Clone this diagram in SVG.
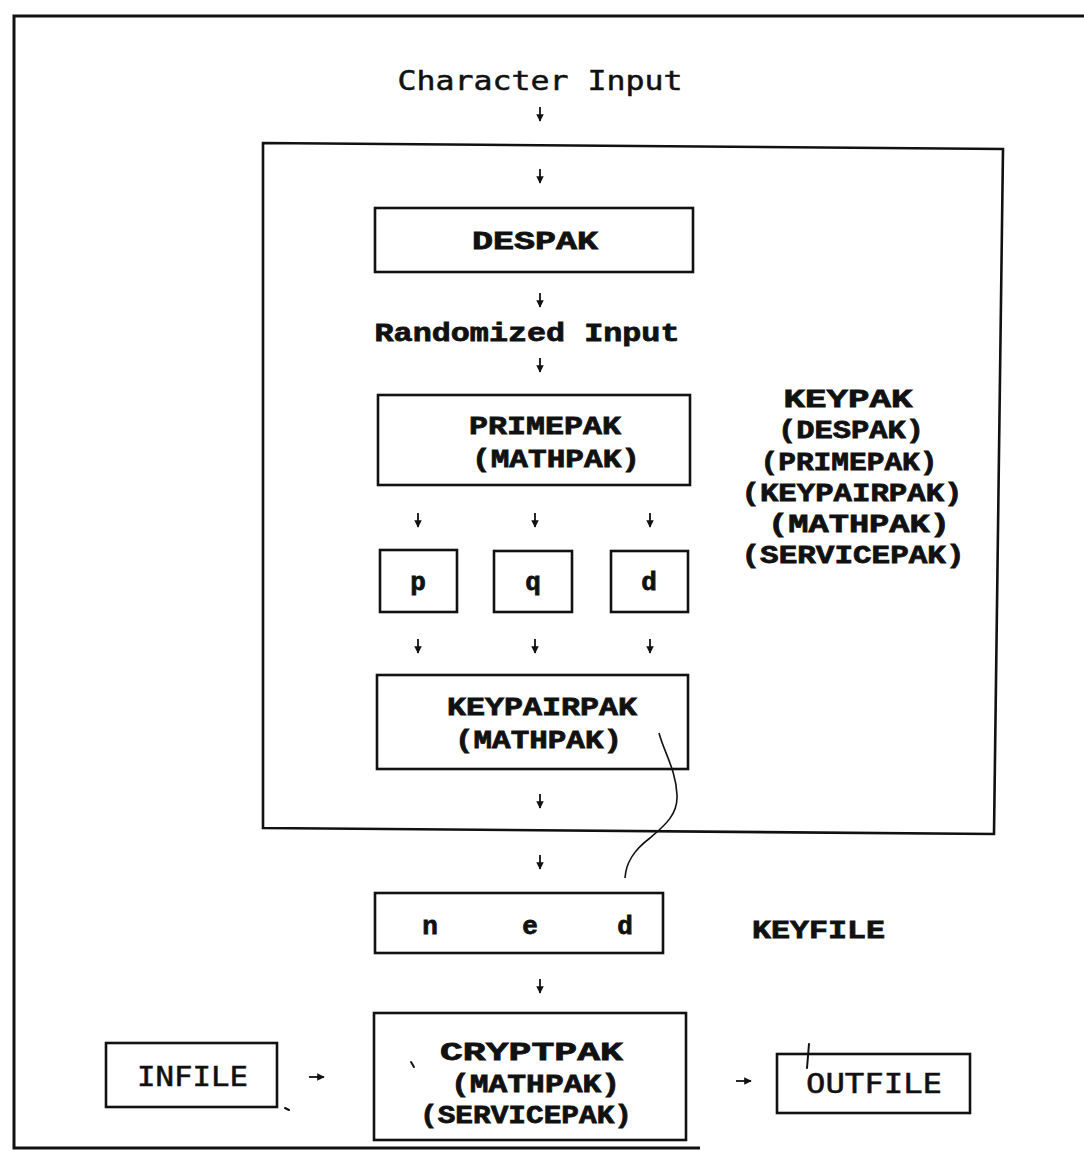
<svg xmlns="http://www.w3.org/2000/svg" width="1084" height="1173" viewBox="0 0 1084 1173">
<defs>
<style>
.box{fill:none;stroke:#111;stroke-width:2.6}
.frame{fill:none;stroke:#111;stroke-width:3}
.b{font-family:"Liberation Mono","Courier New",monospace;font-weight:bold;font-size:26px;fill:#111;stroke:#111;stroke-width:0.8}
.s{font-family:"DejaVu Sans Mono","Liberation Mono",monospace;font-size:26px;fill:#111;stroke:#111;stroke-width:0.5}
.a{stroke:#111;stroke-width:1.8;fill:none;marker-end:url(#ah)}
.mark{stroke:#111;stroke-width:2;fill:none;stroke-linecap:round}
</style>
<marker id="ah" viewBox="0 0 10 10" refX="9" refY="5" markerWidth="4.2" markerHeight="4.2" orient="auto" markerUnits="strokeWidth">
<path d="M0,0 L10,5 L0,10 z" fill="#111"/>
</marker>
</defs>
<rect width="1084" height="1173" fill="#fff"/>

<g id="frame">
<path class="frame" d="M1084,16 L14,16 L14,1148 L700,1148"/>
</g>

<g id="keypak">
<path class="box" d="M263,143 L1003,149 L994,834 L263,828 Z"/>
<text class="b" x="848" y="407" text-anchor="middle" textLength="129" lengthAdjust="spacingAndGlyphs">KEYPAK</text>
<text class="b" x="851" y="438" text-anchor="middle" textLength="146" lengthAdjust="spacingAndGlyphs">(DESPAK)</text>
<text class="b" x="849" y="470" text-anchor="middle" textLength="177" lengthAdjust="spacingAndGlyphs">(PRIMEPAK)</text>
<text class="b" x="852" y="501" text-anchor="middle" textLength="221" lengthAdjust="spacingAndGlyphs">(KEYPAIRPAK)</text>
<text class="b" x="859" y="532" text-anchor="middle" textLength="182" lengthAdjust="spacingAndGlyphs">(MATHPAK)</text>
<text class="b" x="853" y="563" text-anchor="middle" textLength="223" lengthAdjust="spacingAndGlyphs">(SERVICEPAK)</text>
</g>

<g id="char-input">
<text class="s" x="540" y="90" text-anchor="middle" textLength="285" lengthAdjust="spacingAndGlyphs">Character Input</text>
</g>

<g id="despak">
<rect class="box" x="375" y="208" width="318" height="64"/>
<text class="b" x="535" y="249" text-anchor="middle" textLength="126" lengthAdjust="spacingAndGlyphs">DESPAK</text>
</g>

<g id="randomized-input">
<text class="b" x="527" y="341" text-anchor="middle" textLength="305" lengthAdjust="spacingAndGlyphs">Randomized Input</text>
</g>

<g id="primepak">
<rect class="box" x="378" y="395" width="312" height="90"/>
<text class="b" x="469" y="434" textLength="152" lengthAdjust="spacingAndGlyphs">PRIMEPAK</text>
<text class="b" x="472" y="467" textLength="168" lengthAdjust="spacingAndGlyphs">(MATHPAK)</text>
</g>

<g id="p">
<rect class="box" x="380" y="550" width="77" height="62"/>
<text class="b" x="418" y="590" text-anchor="middle">p</text>
</g>
<g id="q">
<rect class="box" x="494" y="551" width="78" height="61"/>
<text class="b" x="533" y="590" text-anchor="middle">q</text>
</g>
<g id="d">
<rect class="box" x="611" y="551" width="77" height="61"/>
<text class="b" x="649" y="590" text-anchor="middle">d</text>
</g>

<g id="keypairpak">
<rect class="box" x="377" y="675" width="311" height="94"/>
<text class="b" x="447" y="715" textLength="190" lengthAdjust="spacingAndGlyphs">KEYPAIRPAK</text>
<text class="b" x="455" y="748" textLength="167" lengthAdjust="spacingAndGlyphs">(MATHPAK)</text>
</g>

<g id="keyfile">
<rect class="box" x="375" y="893" width="288" height="60"/>
<text class="b" x="430" y="934" text-anchor="middle">n</text>
<text class="b" x="530" y="934" text-anchor="middle">e</text>
<text class="b" x="625" y="934" text-anchor="middle">d</text>
<text class="b" x="752" y="938" textLength="133" lengthAdjust="spacingAndGlyphs">KEYFILE</text>
</g>

<g id="infile">
<rect class="box" x="106" y="1043" width="171" height="64"/>
<text class="s" x="137" y="1086" textLength="111" lengthAdjust="spacingAndGlyphs">INFILE</text>
</g>

<g id="cryptpak">
<rect class="box" x="374" y="1013" width="312" height="127"/>
<text class="b" x="440" y="1060" textLength="183" lengthAdjust="spacingAndGlyphs">CRYPTPAK</text>
<text class="b" x="451" y="1092" textLength="169" lengthAdjust="spacingAndGlyphs">(MATHPAK)</text>
<text class="b" x="420" y="1123" textLength="212" lengthAdjust="spacingAndGlyphs">(SERVICEPAK)</text>
</g>

<g id="outfile">
<rect class="box" x="777" y="1054" width="193" height="59"/>
<text class="s" x="806" y="1093" textLength="136" lengthAdjust="spacingAndGlyphs">OUTFILE</text>
</g>

<g id="connectors">
<path class="a" d="M540,107 V121"/>
<path class="a" d="M540,169 V183"/>
<path class="a" d="M540,293 V307"/>
<path class="a" d="M540,358 V372"/>
<path class="a" d="M418,513 V527"/>
<path class="a" d="M535,513 V527"/>
<path class="a" d="M650,513 V527"/>
<path class="a" d="M418,639 V653"/>
<path class="a" d="M535,639 V653"/>
<path class="a" d="M650,639 V653"/>
<path class="a" d="M540,794 V808"/>
<path class="a" d="M540,855 V869"/>
<path class="a" d="M540,979 V993"/>
<path class="a" d="M309,1077 H324"/>
<path class="a" d="M736,1081 H751"/>
<path d="M659,733 C664,752 676,770 677,795 C678,815 664,826 650,838 C634,850 626,862 625,878" fill="none" stroke="#111" stroke-width="1.6"/>
</g>

<g id="marks">
<path class="mark" d="M809,1044 L807,1068"/>
<path class="mark" d="M411,1062 L414,1067"/>
<path class="mark" d="M285,1108 L289,1110"/>
</g>
</svg>
